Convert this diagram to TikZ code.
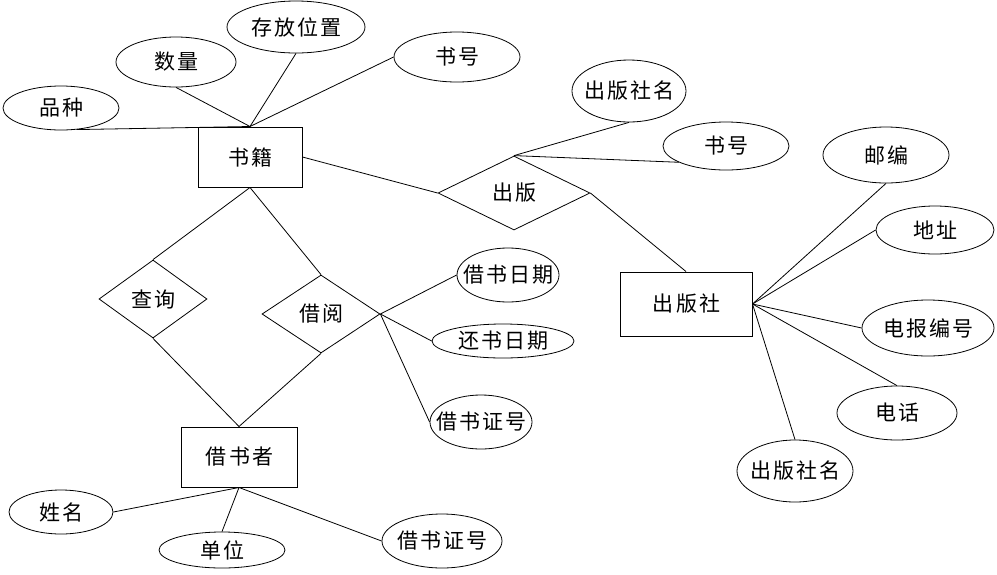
\documentclass[tikz,border=0pt]{standalone}
\usepackage{fontspec}
\newfontfamily\cjk[LetterSpace=11]{Noto Sans CJK SC}
\usetikzlibrary{shapes.geometric}
\newcommand\lbl[1]{\makebox[0pt][c]{\hspace*{1pt}\cjk\fontsize{21pt}{23pt}\selectfont #1}}
\tikzset{
  attr/.style={ellipse, draw, inner sep=0pt, line width=0.8pt},
  ent/.style={rectangle, draw, inner sep=0pt, line width=1pt},
  rel/.style={diamond, draw, inner sep=0pt, line width=0.8pt},
  conn/.style={line width=0.8pt}
}
\begin{document}
\begin{tikzpicture}[x=1pt,y=-1pt]
\useasboundingbox (0,0) rectangle (997,574);
% entities
\node[ent, minimum width=104pt, minimum height=60pt] (shuji) at (250,157) {\lbl{书籍}};
\node[ent, minimum width=116pt, minimum height=60pt] (jsz) at (239,457) {\lbl{借书者}};
\node[ent, minimum width=132pt, minimum height=64pt] (cbs) at (686,304) {\lbl{出版社}};
% relationships
\node[rel, minimum width=152pt, minimum height=74pt] (chuban) at (514,193) {\lbl{出版}};
\node[rel, minimum width=108pt, minimum height=78pt] (chaxun) at (153,299) {\lbl{查询}};
\node[rel, minimum width=118pt, minimum height=78pt] (jieyue) at (321,314) {\lbl{借阅}};
% attributes
\node[attr, minimum width=116pt, minimum height=44pt] (pinzhong) at (61,108) {\lbl{品种}};
\node[attr, minimum width=120pt, minimum height=50pt] (shuliang) at (176,62) {\lbl{数量}};
\node[attr, minimum width=138pt, minimum height=52pt] (cunfang) at (296,27) {\lbl{存放位置}};
\node[attr, minimum width=126pt, minimum height=50pt] (shuhaoa) at (457,57) {\lbl{书号}};
\node[attr, minimum width=114pt, minimum height=62pt] (cbsma) at (629,91) {\lbl{出版社名}};
\node[attr, minimum width=126pt, minimum height=48pt] (shuhaob) at (726,146) {\lbl{书号}};
\node[attr, minimum width=126pt, minimum height=56pt] (youbian) at (886,155) {\lbl{邮编}};
\node[attr, minimum width=118pt, minimum height=48pt] (dizhi) at (935,230) {\lbl{地址}};
\node[attr, minimum width=132pt, minimum height=56pt] (dianbao) at (928,328) {\lbl{电报编号}};
\node[attr, minimum width=120pt, minimum height=54pt] (dianhua) at (897,413) {\lbl{电话}};
\node[attr, minimum width=116pt, minimum height=62pt] (cbsmb) at (795,471) {\lbl{出版社名}};
\node[attr, minimum width=102pt, minimum height=54pt] (jsrq) at (508,275) {\lbl{借书日期}};
\node[attr, minimum width=142pt, minimum height=34pt] (hsrq) at (503,341) {\lbl{还书日期}};
\node[attr, minimum width=102pt, minimum height=54pt] (jszha) at (481,422) {\lbl{借书证号}};
\node[attr, minimum width=104pt, minimum height=44pt] (xingming) at (61,512) {\lbl{姓名}};
\node[attr, minimum width=126pt, minimum height=36pt] (danwei) at (222,550) {\lbl{单位}};
\node[attr, minimum width=120pt, minimum height=54pt] (jszhb) at (442,541) {\lbl{借书证号}};
% connectors
\draw[conn] (pinzhong.-54) -- (shuji.north);
\draw[conn] (shuliang.south) -- (shuji.north);
\draw[conn] (cunfang.south) -- (shuji.north);
\draw[conn] (shuhaoa.west) -- (shuji.north);
\draw[conn] (shuji.east) -- (chuban.west);
\draw[conn] (chuban.north) -- (cbsma.south);
\draw[conn] (chuban.north) -- (shuhaob.199);
\draw[conn] (chuban.east) -- (cbs.north);
\draw[conn] (cbs.east) -- (youbian.south);
\draw[conn] (cbs.east) -- (dizhi.west);
\draw[conn] (cbs.east) -- (dianbao.west);
\draw[conn] (cbs.east) -- (dianhua.north);
\draw[conn] (cbs.east) -- (cbsmb.north);
\draw[conn] (shuji.south) -- (chaxun.north);
\draw[conn] (shuji.south) -- (jieyue.north);
\draw[conn] (chaxun.south) -- (jsz.north);
\draw[conn] (jieyue.south) -- (jsz.north);
\draw[conn] (jieyue.east) -- (jsrq.west);
\draw[conn] (jieyue.east) -- (hsrq.west);
\draw[conn] (jieyue.east) -- (jszha.west);
\draw[conn] (jsz.south) -- (xingming.east);
\draw[conn] (jsz.south) -- (danwei.north);
\draw[conn] (jsz.south) -- (jszhb.west);
\end{tikzpicture}
\end{document}
